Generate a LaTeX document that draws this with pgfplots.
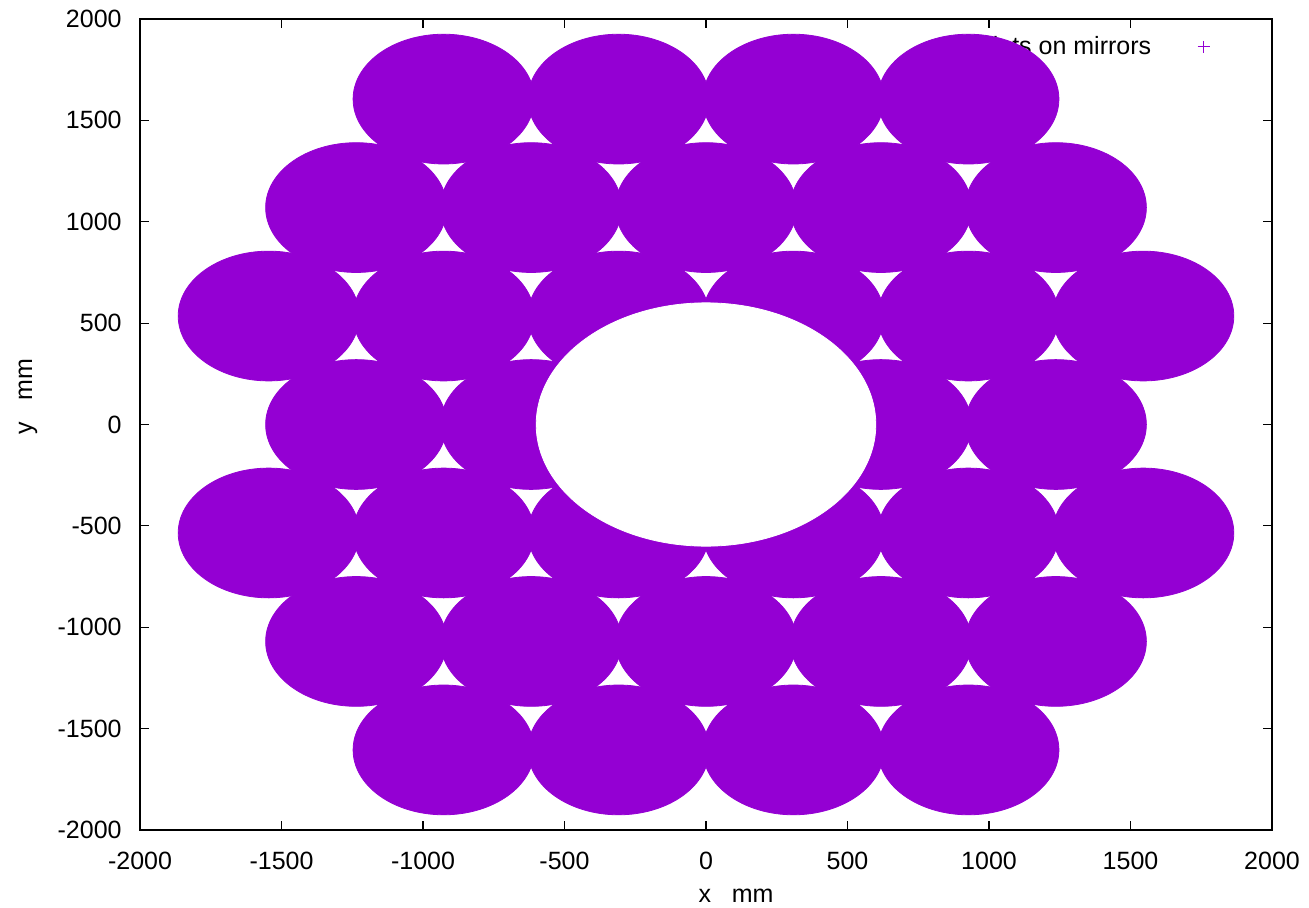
\documentclass[border=0pt]{standalone}
\usepackage{fontspec}
\setmainfont{Liberation Sans}
\usepackage{pgfplots}
\pgfplotsset{compat=1.18}
\definecolor{gpviolet}{HTML}{9400D3}
\pgfplotsset{
  layers/legendbelow/.define layer set={
    axis background,axis grid,axis ticks,axis lines,axis tick labels,axis descriptions,pre main,main,axis foreground
  }{
    grid style={/pgfplots/on layer=axis grid},
    tick style={/pgfplots/on layer=axis ticks},
    axis line style={/pgfplots/on layer=axis lines},
    label style={/pgfplots/on layer=axis descriptions},
    legend style={/pgfplots/on layer=axis descriptions},
    title style={/pgfplots/on layer=axis descriptions},
    colorbar style={/pgfplots/on layer=axis descriptions},
    ticklabel style={/pgfplots/on layer=axis tick labels},
    axis background@ style={/pgfplots/on layer=axis background},
    3d box foreground style={/pgfplots/on layer=axis foreground},
  },
}
\begin{document}
\begin{tikzpicture}
\begin{axis}[
  scale only axis, width=566pt, height=405.5pt,
  xmin=-2000, xmax=2000, ymin=-2000, ymax=2000,
  xtick={-2000,-1500,...,2000}, ytick={-2000,-1500,...,2000},
  /pgf/number format/assume math mode=true,
  /pgf/number format/set thousands separator={},
  tick label style={font=\fontsize{12.5}{15}\selectfont},
  xticklabel style={anchor=north, inner sep=0pt, yshift=-11pt},
  yticklabel style={anchor=east, inner sep=0pt, xshift=-9pt},
  label style={font=\fontsize{12.5}{15}\selectfont},
  tick align=inside, major tick length=4.5pt,
  axis line style={line width=0.6pt},
  every tick/.style={line width=0.6pt, black},
  xlabel={x\ \ \ mm}, ylabel={y\ \ \ mm},
  xlabel style={at={(axis description cs:0.5,0)}, anchor=center, xshift=15pt, yshift=-33pt},
  ylabel style={at={(axis description cs:0,0.5)}, anchor=center, yshift=56pt, xshift=14pt},
  set layers=legendbelow,
  legend style={draw=none, fill=none,
    at={(axis description cs:1,1)}, anchor=north east, legend plot pos=right,
    font=\fontsize{12.5}{15}\selectfont, xshift=-28pt, yshift=-4.5pt},
]
\addlegendimage{legend image code/.code={%
  \path (-24pt,0pt);
  \draw[gpviolet, line width=0.5pt, mark=+, mark size=3pt] plot coordinates {(0pt,0pt)};}}
\addlegendentry{points on mirrors}
\addplot[forget plot, only marks, mark=*, color=gpviolet, mark size=45.28pt,
  mark options={draw=none, fill=gpviolet, yscale=0.7164}] table {
x y
-1236 0
-618 0
618 0
1236 0
-1545 535
-927 535
-309 535
309 535
927 535
1545 535
-1545 -535
-927 -535
-309 -535
309 -535
927 -535
1545 -535
-1236 1070
-618 1070
0 1070
618 1070
1236 1070
-1236 -1070
-618 -1070
0 -1070
618 -1070
1236 -1070
-927 1605
-309 1605
309 1605
927 1605
-927 -1605
-309 -1605
309 -1605
927 -1605
};
\addplot[forget plot, only marks, mark=*, color=white, mark size=84.9pt,
  mark options={draw=none, fill=white, yscale=0.7164}] coordinates {(0,0)};
\end{axis}
\pgfresetboundingbox
\useasboundingbox ([shift={(-70pt,-38.5pt)}]current axis.south west) rectangle ([shift={(18.5pt,9.5pt)}]current axis.north east);
\end{tikzpicture}
\end{document}
